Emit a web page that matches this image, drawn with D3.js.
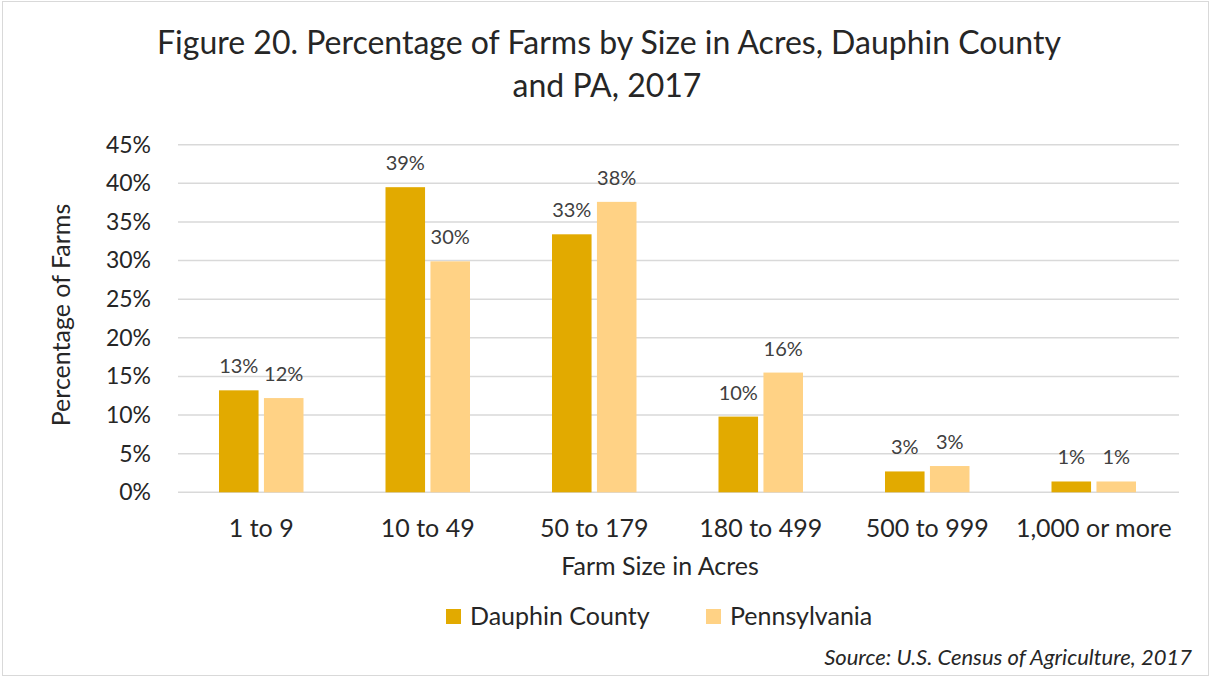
<!DOCTYPE html>
<html>
<head>
<meta charset="UTF-8">
<title>Farms by Size</title>
<style>
html, body {
    margin: 0;
    padding: 0;
    background-color: #fff;
}
svg text {
    font-family: Lato, "Open Sans", sans-serif;
    fill: #262626;
}
.grid line {
    stroke: #D9D9D9;
    stroke-width: 1.5;
}
</style>
</head>
<body>
<div class="chart"></div>
<script src="https://cdn.jsdelivr.net/npm/d3@7/dist/d3.min.js"></script>
<script>
let categories = ['1 to 9', '10 to 49', '50 to 179', '180 to 499', '500 to 999', '1,000 or more'];
let seriesNames = ['Dauphin County', 'Pennsylvania'];
let dauphin = [13.2, 39.5, 33.4, 9.8, 2.7, 1.4];
let pennsylvania = [12.2, 29.9, 37.6, 15.5, 3.4, 1.4];
let dauphinLabels = ['13%', '39%', '33%', '10%', '3%', '1%'];
let pennLabels = ['12%', '30%', '38%', '16%', '3%', '1%'];
let yTicks = [0, 5, 10, 15, 20, 25, 30, 35, 40, 45];
let colors = ['#E2AA00', '#FFD285'];

let width = 1211, height = 679;
let plotLeft = 178, plotRight = 1177, plotTop = 144.7, plotBottom = 492.3;

let svg = d3.select('.chart').append('svg')
    .attr('width', width)
    .attr('height', height);

// outer frame
svg.append('rect')
    .attr('x', 2.5).attr('y', 1.5)
    .attr('width', width - 5).attr('height', height - 5)
    .attr('fill', '#fff')
    .attr('stroke', '#D9D9D9');

let x0 = d3.scaleBand()
    .domain(categories)
    .range([plotLeft, plotRight]);

let x1 = d3.scaleBand()
    .domain(seriesNames)
    .range([41, x0.bandwidth() - 41])
    .paddingInner(0.12);

let y = d3.scaleLinear()
    .domain([0, 45])
    .range([plotBottom, plotTop]);

// gridlines
svg.append('g')
    .attr('class', 'grid')
    .selectAll('line')
    .data(yTicks)
    .enter().append('line')
    .attr('x1', plotLeft)
    .attr('x2', plotRight + 2)
    .attr('y1', (d) => y(d))
    .attr('y2', (d) => y(d));

// y axis labels
let yAxis = d3.axisLeft(y)
    .tickValues(yTicks)
    .tickFormat((d) => d + '%')
    .tickSize(0)
    .tickPadding(0);

let yg = svg.append('g')
    .attr('transform', `translate(151,0)`)
    .call(yAxis);
yg.select('.domain').remove();
yg.selectAll('text')
    .attr('font-size', 23)
    .style('font-family', 'Lato, sans-serif')
    .attr('fill', '#262626');

// x axis labels
let xAxis = d3.axisBottom(x0).tickSize(0).tickPadding(0);
let xg = svg.append('g')
    .attr('transform', `translate(0,519)`)
    .call(xAxis);
xg.select('.domain').remove();
xg.selectAll('text')
    .attr('font-size', 25)
    .style('font-family', 'Lato, sans-serif')
    .attr('fill', '#262626');

let rows = categories.map((c, i) => ({
    cat: c,
    vals: [
        {name: seriesNames[0], v: dauphin[i], label: dauphinLabels[i]},
        {name: seriesNames[1], v: pennsylvania[i], label: pennLabels[i]}
    ]
}));

let groups = svg.append('g')
    .selectAll('g')
    .data(rows)
    .enter().append('g')
    .attr('transform', (d) => `translate(${x0(d.cat)},0)`);

groups.selectAll('rect')
    .data((d) => d.vals)
    .enter().append('rect')
    .attr('x', (d) => x1(d.name))
    .attr('width', x1.bandwidth())
    .attr('y', (d) => y(d.v))
    .attr('height', (d) => y(0) - y(d.v))
    .attr('fill', (d, i) => colors[i]);

groups.selectAll('text.lbl')
    .data((d) => d.vals)
    .enter().append('text')
    .attr('class', 'lbl')
    .attr('x', (d) => x1(d.name) + x1.bandwidth() / 2)
    .attr('y', (d) => y(d.v) - 17)
    .attr('text-anchor', 'middle')
    .attr('font-size', 20)
    .style('fill', '#404040')
    .text((d) => d.label);

// title
let title = svg.append('text')
    .attr('text-anchor', 'middle')
    .attr('font-size', 32);
title.append('tspan').attr('x', 609).attr('y', 54)
    .text('Figure 20. Percentage of Farms by Size in Acres, Dauphin County');
title.append('tspan').attr('x', 607).attr('y', 97)
    .text('and PA, 2017');

// axis titles
svg.append('text')
    .attr('transform', 'translate(70,315) rotate(-90)')
    .attr('text-anchor', 'middle')
    .attr('font-size', 25)
    .text('Percentage of Farms');

svg.append('text')
    .attr('x', 660)
    .attr('y', 575)
    .attr('text-anchor', 'middle')
    .attr('font-size', 25)
    .text('Farm Size in Acres');

// legend
let legend = svg.append('g')
    .selectAll('g')
    .data(seriesNames)
    .enter().append('g')
    .attr('transform', (d, i) => `translate(${i === 0 ? 446 : 706},609)`);

legend.append('rect')
    .attr('width', 15)
    .attr('height', 15)
    .attr('fill', (d, i) => colors[i]);

legend.append('text')
    .attr('x', 24)
    .attr('y', 16)
    .attr('font-size', 25)
    .text((d) => d);

// source
svg.append('text')
    .attr('x', 1192)
    .attr('y', 665)
    .attr('text-anchor', 'end')
    .attr('font-size', 22)
    .attr('font-style', 'italic')
    .text('Source: U.S. Census of Agriculture, 2017');
</script>
</body>
</html>
